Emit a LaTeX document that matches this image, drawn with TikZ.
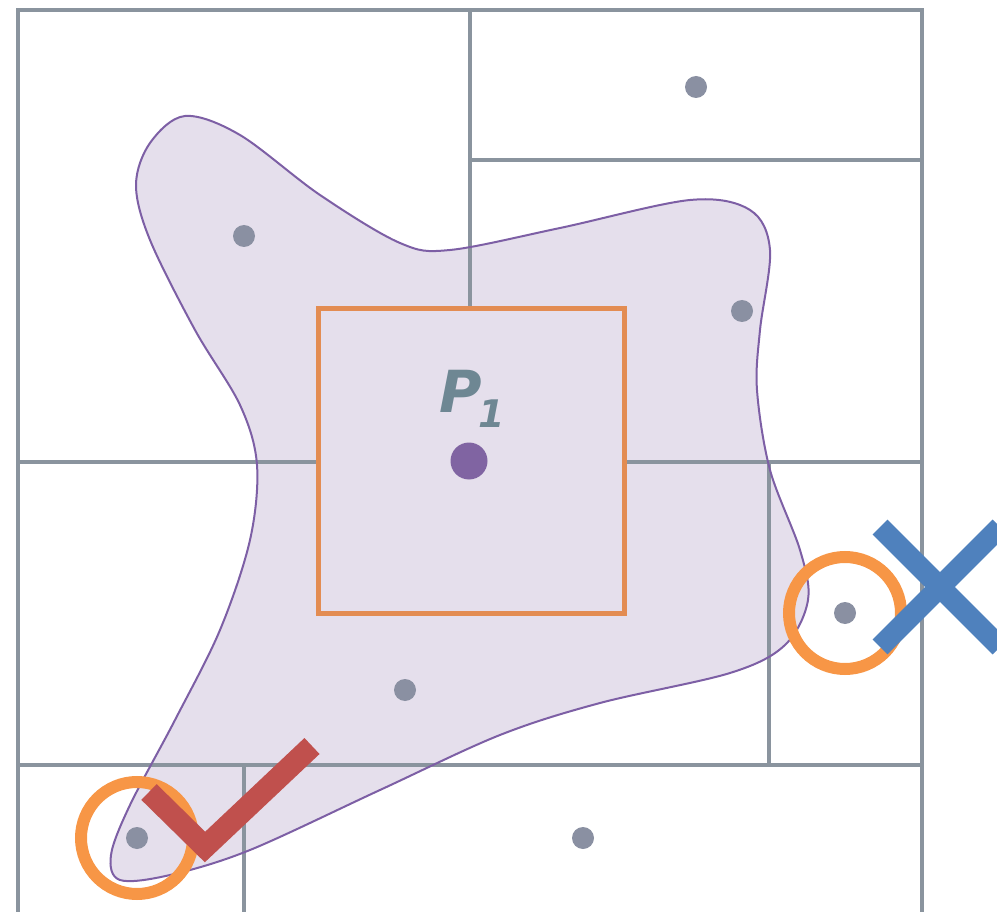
\documentclass[tikz,border=0pt]{standalone}
\usepackage{fontspec}
\newfontfamily\labelfont{DejaVu Sans}
\usepackage{xcolor}
\usetikzlibrary{positioning, calc}

\definecolor{gridgray}{HTML}{8A949E}
\definecolor{dotgray}{HTML}{8A90A2}
\definecolor{blobfill}{HTML}{E5DFEC}
\definecolor{blobline}{HTML}{7D5FA5}
\definecolor{boxorange}{HTML}{E38C52}
\definecolor{ringorange}{HTML}{F79646}
\definecolor{crossblue}{HTML}{4F81BD}
\definecolor{checkred}{HTML}{C0504D}
\definecolor{centerpurple}{HTML}{8064A2}
\definecolor{labelslate}{HTML}{6E8793}

\def\regionpts{(150,143) (185,116) (240,135) (320,195) (400,243) (450,250)
    (560,228) (690,200) (750,210) (770,250) (760,330) (757,390) (770,470)
    (800,550) (808,600) (785,645) (730,673) (600,703) (500,735) (380,790)
    (250,850) (170,875) (120,880) (111,855) (130,805) (175,720) (220,630)
    (250,540) (257,465) (240,405) (195,330) (150,240) (136,185)}

\begin{document}
\begin{tikzpicture}[
    x=1pt, y=-1pt,
    gridline/.style={draw=gridgray, line width=3.5pt},
    region/.style={fill=blobfill},
    regionline/.style={draw=blobline, line width=2pt},
    querybox/.style={draw=boxorange, fill=blobfill, line width=5pt},
    site/.style={circle, fill=dotgray, inner sep=0pt, minimum size=22pt},
    center/.style={circle, fill=centerpurple, inner sep=0pt, minimum size=37pt},
    ring/.style={circle, draw=ringorange, line width=12pt, inner sep=0pt, minimum size=112pt},
    checkmark/.style={draw=checkred, line width=22pt, miter limit=10},
    crossmark/.style={draw=crossblue, line width=21pt}
]
\useasboundingbox (0,0) rectangle (997,912);

% Region
\path[region] plot[smooth cycle, tension=0.55] coordinates {\regionpts};

% Grid
\draw[gridline] (18,912) -- (18,10) -- (922,10) -- (922,912);
\draw[gridline] (470,10) -- (470,462);
\draw[gridline] (470,160) -- (922,160);
\draw[gridline] (18,462) -- (922,462);
\draw[gridline] (769,462) -- (769,765);
\draw[gridline] (18,765) -- (922,765);
\draw[gridline] (244,765) -- (244,912);

\draw[regionline] plot[smooth cycle, tension=0.55] coordinates {\regionpts};

\draw[querybox] (318,309) rectangle (624,613);

% Points
\node[site] (s1) at (696,87) {};
\node[site] (s2) at (244,236) {};
\node[site] (s3) at (742,311) {};
\node[site] (s4) at (405,690) {};
\node[site] (s5) at (137,838) {};
\node[site] (s6) at (583,838) {};
\node[site] (s7) at (845,613) {};
\node[center] (p1) at (469,461) {};
\node[anchor=base west, inner sep=0pt, text=labelslate,
      font=\labelfont\bfseries\itshape\fontsize{58}{58}\selectfont] (p1label) at (439,412)
      {P\kern-3pt\raisebox{-16pt}{\fontsize{38}{38}\selectfont 1}};

% Marks
\node[ring] (ring1) at (s5) {};
\node[ring] (ring2) at (s7) {};
\draw[checkmark] (149,792) -- (205,847) -- (312,746);
\draw[crossmark] (880,527) -- (1000,647);
\draw[crossmark] (880,647) -- (1000,527);

\end{tikzpicture}
\end{document}
